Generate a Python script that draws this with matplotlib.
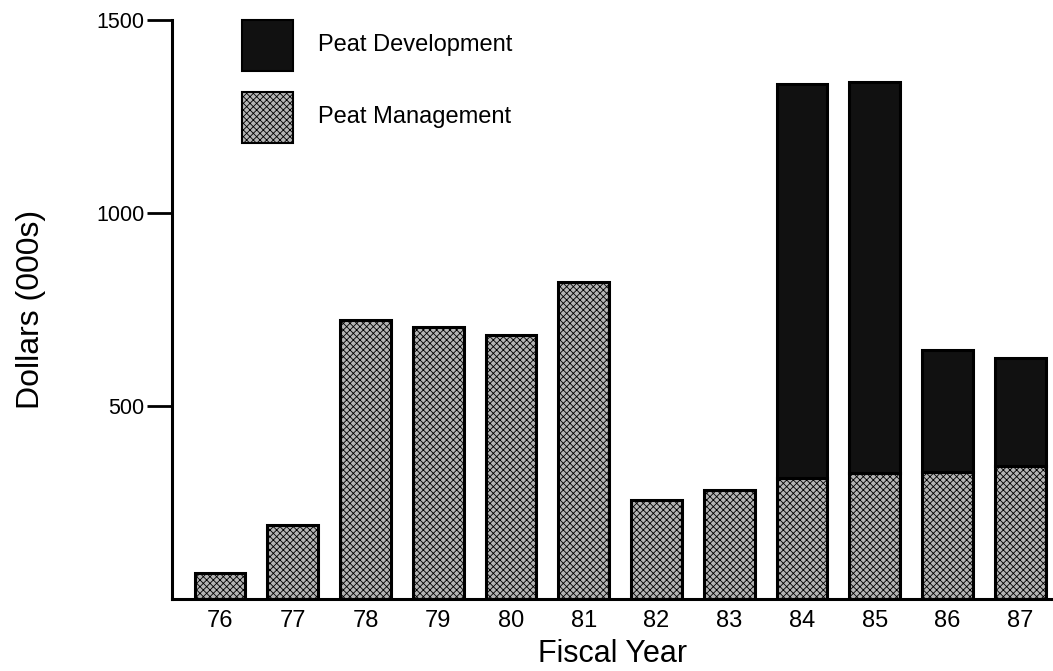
import matplotlib
matplotlib.use("Agg")
import matplotlib.pyplot as plt
from matplotlib.patches import Rectangle

years = ["76", "77", "78", "79", "80", "81", "82", "83", "84", "85", "86", "87"]
management = [67, 192, 723, 705, 684, 821, 256, 282, 313, 326, 329, 345]
development = [0, 0, 0, 0, 0, 0, 0, 0, 1021, 1013, 316, 279]
y_ticks = [500, 1000, 1500]
legend_labels = ["Peat Development", "Peat Management"]

plt.rcParams['font.family'] = ['Liberation Sans', 'DejaVu Sans']
plt.rcParams['hatch.linewidth'] = 0.6
plt.rcParams['hatch.color'] = '#222222'

W, H = 1053, 671
fig = plt.figure(figsize=(W / 100, H / 100), dpi=100)
ax = fig.add_axes([172/W, 1 - 599/H, (W - 172)/W, (599 - 20)/H])

mgmt_color = '#b4b4b4'
dev_color = '#111111'
x = list(range(len(years)))
ax.bar(x, management, width=0.70, color=mgmt_color, edgecolor='black', linewidth=2.2,
       hatch='xxxxx')
dev_x = [i for i, d in zip(x, development) if d > 0]
dev_v = [d for d in development if d > 0]
dev_b = [m for m, d in zip(management, development) if d > 0]
ax.bar(dev_x, dev_v, bottom=dev_b, width=0.70, color=dev_color, edgecolor='black', linewidth=2.2)

ax.set_xlim(-0.66, 11.45)
ax.set_ylim(0, 1500)
ax.set_yticks(y_ticks)
ax.set_xticks(x)
ax.set_xticklabels(years)
ax.tick_params(axis='y', direction='out', length=18, width=2.0, pad=2, labelsize=15.5)
ax.tick_params(axis='x', length=0, pad=8, labelsize=17)
for s in ['top', 'right']:
    ax.spines[s].set_visible(False)
for s in ['left', 'bottom']:
    ax.spines[s].set_linewidth(2.2)

ax.set_xlabel("Fiscal Year", fontsize=22, labelpad=5)
ax.set_ylabel("Dollars (000s)", fontsize=23, labelpad=36)

# legend drawn as figure patches
leg_styles = [dict(facecolor=dev_color), dict(facecolor=mgmt_color, hatch='xxxxx')]
box_tops = [20, 92]
for lab, st, top in zip(legend_labels, leg_styles, box_tops):
    fig.patches.append(Rectangle((242/W, 1 - (top + 51)/H), 51/W, 51/H,
                                 transform=fig.transFigure, edgecolor='black',
                                 linewidth=1.5, **st))
    fig.text(318/W, 1 - (top + 25.5)/H, lab, fontsize=17, va='center', ha='left')

fig.savefig("out.png", dpi=100)
